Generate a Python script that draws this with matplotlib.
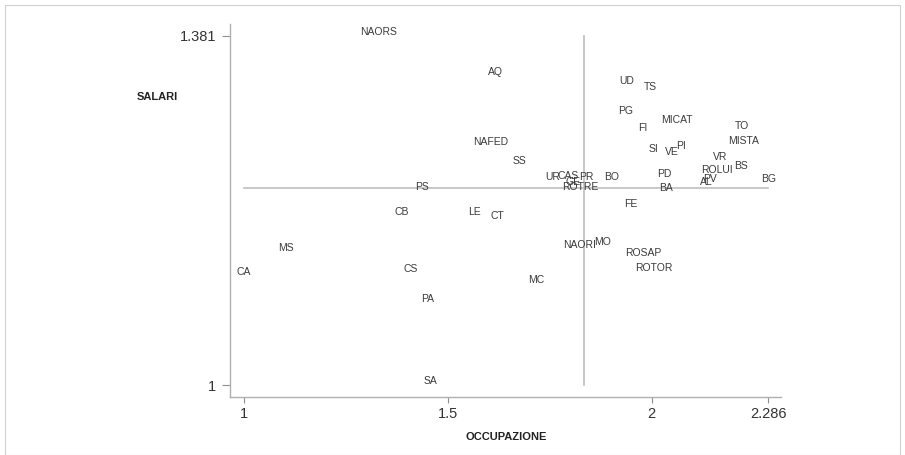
import matplotlib
matplotlib.use('Agg')
import matplotlib.pyplot as plt
from matplotlib.patches import Rectangle

labels = ['NAORS', 'AQ', 'UD', 'TS', 'PG', 'MICAT', 'FI', 'TO', 'MISTA', 'NAFED',
          'SI', 'VE', 'PI', 'VR', 'SS', 'BS', 'ROLUI', 'UR', 'CAS', 'PR',
          'GE', 'BO', 'PD', 'PV', 'AL', 'BG', 'BA', 'PS', 'ROTRE', 'FE',
          'CB', 'LE', 'CT', 'MS', 'NAORI', 'MO', 'ROSAP', 'ROTOR', 'CA', 'CS',
          'MC', 'PA', 'SA']
occupazione = [1.331, 1.616, 1.939, 1.996, 1.935, 2.062, 1.977, 2.221, 2.224, 1.605,
               2.004, 2.050, 2.073, 2.168, 1.675, 2.218, 2.161, 1.756, 1.796, 1.839,
               1.808, 1.901, 2.032, 2.143, 2.135, 2.286, 2.035, 1.436, 1.824, 1.949,
               1.386, 1.566, 1.621, 1.104, 1.824, 1.880, 1.980, 2.006, 1.000, 1.410,
               1.716, 1.451, 1.457]
salari = [1.381, 1.338, 1.328, 1.321, 1.295, 1.285, 1.276, 1.279, 1.262, 1.261,
          1.254, 1.250, 1.257, 1.245, 1.240, 1.235, 1.231, 1.223, 1.224, 1.223,
          1.218, 1.223, 1.226, 1.221, 1.218, 1.2205, 1.211, 1.212, 1.212, 1.194,
          1.185, 1.185, 1.180, 1.145, 1.149, 1.152, 1.140, 1.124, 1.119, 1.123,
          1.111, 1.090, 1.000]

mean_x = 1.834
mean_y = 1.2147
x_ticks = [1, 1.5, 2, 2.286]
x_tick_labels = ['1', '1.5', '2', '2.286']
y_ticks = [1, 1.381]
y_tick_labels = ['1', '1.381']

plt.rcParams['font.family'] = ['Liberation Sans', 'DejaVu Sans']

fig = plt.figure(figsize=(9.05, 4.55), dpi=100)
ax = fig.add_axes([230 / 905, 1 - 397 / 455, 551 / 905, 373 / 455])

line_col = '#c4c4c4'
ax.plot([mean_x, mean_x], [min(salari), max(salari)], color=line_col, lw=1.3, zorder=1)
ax.plot([min(occupazione), max(occupazione)], [mean_y, mean_y], color=line_col, lw=1.3, zorder=1)

for lab, x, y in zip(labels, occupazione, salari):
    ax.annotate(lab, (x, y), xytext=(0, 2.7), textcoords='offset points',
                ha='center', va='center', fontsize=7.5, color='#3a3a3a', zorder=3)

ax.set_xlim(0.966, 2.317)
ax.set_ylim(0.987, 1.394)
ax.set_xticks(x_ticks)
ax.set_xticklabels(x_tick_labels)
ax.set_yticks(y_ticks)
ax.set_yticklabels(y_tick_labels)

for side in ['top', 'right']:
    ax.spines[side].set_visible(False)
for side in ['left', 'bottom']:
    ax.spines[side].set_color('#b0b0b0')
    ax.spines[side].set_linewidth(1.0)

ax.tick_params(axis='x', length=4, width=0.8, color='#909090', labelsize=10.5,
               labelcolor='#333333', pad=3)
ax.tick_params(axis='y', length=6, width=0.8, color='#909090', labelsize=10.5,
               labelcolor='#333333', pad=4)

fig.text(157 / 905, 1 - 97 / 455, 'SALARI', ha='center', va='center',
         fontsize=8, fontweight='bold', color='#222222')
fig.text(506 / 905, 1 - 437 / 455, 'OCCUPAZIONE', ha='center', va='center',
         fontsize=8, fontweight='bold', color='#222222')

fig.patches.append(Rectangle((5 / 905, 0), 895 / 905, 450 / 455, transform=fig.transFigure,
                             fill=False, edgecolor='#d0d0d0', lw=0.8))

fig.savefig('out.png', dpi=100)
